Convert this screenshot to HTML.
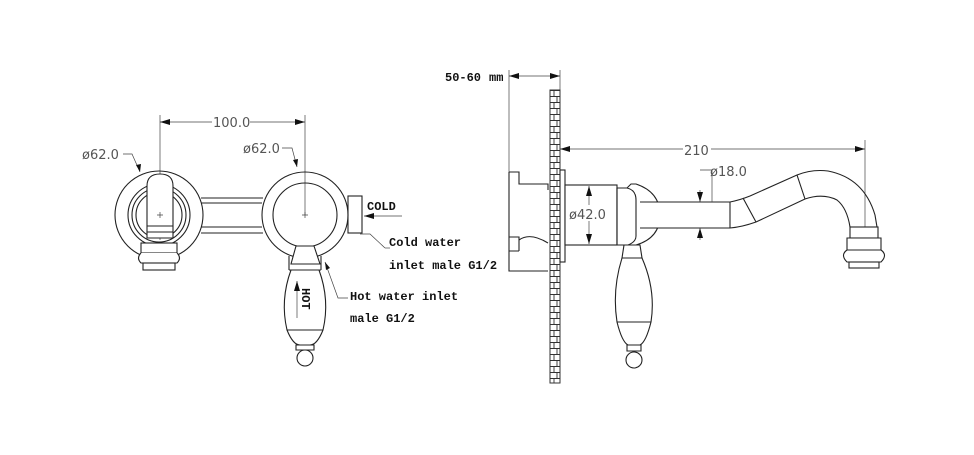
<!DOCTYPE html>
<html><head><meta charset="utf-8"><style>
html,body{margin:0;padding:0;background:#fff;}
svg{display:block;}
.l{fill:none;stroke:#222;stroke-width:1.1;}
.l.w{fill:#fff;}
.d{fill:none;stroke:#444;stroke-width:0.7;}
.t{font-family:"DejaVu Sans","Liberation Sans",sans-serif;font-size:13px;fill:#555;}
.b{font-family:"Liberation Mono",monospace;font-weight:bold;font-size:12px;fill:#111;}
</style></head><body>
<svg width="974" height="455" viewBox="0 0 974 455" xmlns="http://www.w3.org/2000/svg">
<defs>
<marker id="a" viewBox="0 0 10 6" refX="10" refY="3" markerWidth="10" markerHeight="6" orient="auto-start-reverse" markerUnits="userSpaceOnUse"><path d="M0,0 L10,3 L0,6z" fill="#111"/></marker>
<pattern id="brick" x="550" y="90" width="10" height="12" patternUnits="userSpaceOnUse">
<rect x="0" y="0" width="10" height="12" fill="#fff"/>
<path d="M0,0.5H10M0,6.5H10M4,0V6M7,6V12" stroke="#333" stroke-width="0.9" fill="none"/>
</pattern>
</defs>

<!-- LEFT VIEW -->
<path class="d" d="M160,115V240M305,115V215"/>
<line class="d" x1="160" y1="122" x2="305" y2="122" marker-start="url(#a)" marker-end="url(#a)"/>
<rect x="212" y="114" width="38" height="14" fill="#fff"/>
<text class="t" x="213" y="127">100.0</text>
<text class="t" x="82" y="159">ø62.0</text>
<path class="d" d="M123,154H132L140,172"/>
<path d="M140,172l-4,-7 5,-1z" fill="#111"/>
<text class="t" x="243" y="153">ø62.0</text>
<path class="d" d="M282,148H292L297,167"/>
<path d="M297,167l-4,-7 5,-1z" fill="#111"/>

<circle class="l" cx="159" cy="215" r="44"/>
<circle class="l" cx="159" cy="215" r="31"/>
<circle class="l" cx="159" cy="215" r="27"/>
<circle class="l" cx="159" cy="215" r="23"/>
<path class="l w" d="M147,238V186Q147,174 160,174Q173,174 173,186V238Z"/>
<path class="l" d="M147,226H173M147,232H173"/>
<rect class="l w" x="141" y="243" width="36" height="10"/>
<path class="l w" d="M141,253Q136,258 141,263H177Q182,258 177,253"/>
<rect class="l w" x="143" y="263" width="32" height="7"/>
<path class="d" d="M157,215h6M160,212v6M302,215h6M305,212v6"/>

<path class="l" d="M201,198H263M201,203H262M201,227H262M201,233H263"/>
<circle class="l" cx="305" cy="215" r="43"/>
<circle class="l" cx="305" cy="215" r="32"/>
<rect class="l" x="348" y="196" width="14" height="37"/>
<text class="b" x="367" y="210">COLD</text>
<line class="d" x1="402" y1="216" x2="364" y2="216" marker-end="url(#a)"/>
<path class="d" d="M385,248L370,234H360"/>
<path class="d" d="M385,248H390"/>
<text class="b" x="389" y="246">Cold water</text>
<text class="b" x="389" y="269">inlet male G1/2</text>

<!-- handle front -->
<path class="l w" d="M296,246L291,264H320L314,246Z"/>
<path class="l" d="M289,256V270M321,256V270"/>
<path class="l" d="M289,270H321"/>
<path class="l w" d="M291,270Q280,300 287,330Q293,345 300,345H310Q317,345 323,330Q330,300 319,270Z"/>
<path class="l" d="M287,330H323M296,345H314V350H296Z"/>
<circle class="l" cx="305" cy="358" r="8"/>
<line class="d" x1="297" y1="318" x2="297" y2="281" marker-end="url(#a)"/>
<text class="b" transform="translate(302,288) rotate(90)" font-size="11">HOT</text>
<path class="d" d="M325,262L338,298H348"/>
<path d="M325,262l1,8 4,-2z" fill="#111"/>
<text class="b" x="350" y="300">Hot water inlet</text>
<text class="b" x="350" y="322">male G1/2</text>

<!-- RIGHT VIEW -->
<text class="b" x="445" y="81" font-size="13">50-60</text>
<text class="b" x="489" y="81" font-size="9">mm</text>
<path class="d" d="M509,70V172M560,70V148"/>
<line class="d" x1="509" y1="76" x2="560" y2="76" marker-start="url(#a)" marker-end="url(#a)"/>
<path class="l" d="M509,172H519V184H548V190M519,184V172M509,172V271H548M509,237H519V251M519,237V240Q530,232 548,243M509,251H519" />
<rect x="550" y="90" width="10" height="293" fill="url(#brick)" stroke="#333" stroke-width="1"/>
<line class="d" x1="560" y1="149" x2="865" y2="149" marker-start="url(#a)" marker-end="url(#a)"/>
<rect x="683" y="142" width="28" height="14" fill="#fff"/>
<text class="t" x="684" y="155">210</text>
<path class="d" d="M865,140V268"/>

<rect class="l w" x="560" y="170" width="5" height="92"/>
<rect class="l w" x="565" y="185" width="52" height="60"/>
<line class="d" x1="589" y1="186" x2="589" y2="244" marker-start="url(#a)" marker-end="url(#a)"/>
<rect x="568" y="205" width="44" height="16" fill="#fff"/>
<text class="t" x="569" y="219">ø42.0</text>
<path class="l w" d="M617,188H627L631,184H636Q660,192 660,215Q660,238 636,245H617Z"/>
<path class="l" d="M627,188Q636,190 636,200V236Q636,242 628,245M617,188V245"/>
<rect x="640" y="202" width="90" height="26" style="fill:#fff;stroke:none"/>
<path class="l" d="M640,202H730M640,228H730M730,202V228"/>
<line class="d" x1="700" y1="190" x2="700" y2="202" marker-end="url(#a)"/>
<line class="d" x1="700" y1="240" x2="700" y2="228" marker-end="url(#a)"/>
<path class="d" d="M700,170H712V202"/>
<text class="t" x="710" y="176">ø18.0</text>
<path class="l" d="M730,202Q740,200 750,196L797,175Q812,169 828,171Q864,178 875,215L877,227"/>
<path class="l" d="M730,228Q742,227 756,222L805,199Q823,193 837,200Q847,208 850,227"/>
<path class="l" d="M743,198L756,222M797,175L805,199"/>
<rect class="l w" x="850" y="227" width="28" height="11"/>
<path class="l w" d="M847,238H881V250Q888,255 881,262H847Q840,255 847,250Z"/>
<path class="l" d="M847,250H881"/>
<rect class="l w" x="849" y="262" width="30" height="6"/>

<!-- handle side -->
<path class="l w" d="M624,245L622,258H642L640,245Z"/>
<path class="l w" d="M622,258Q612,290 617,322Q622,342 628,345H640Q646,342 651,322Q656,290 642,258Z"/>
<path class="l" d="M617,322H651M627,345H641V351H627Z"/>
<circle class="l" cx="634" cy="360" r="8"/>
</svg>
</body></html>
